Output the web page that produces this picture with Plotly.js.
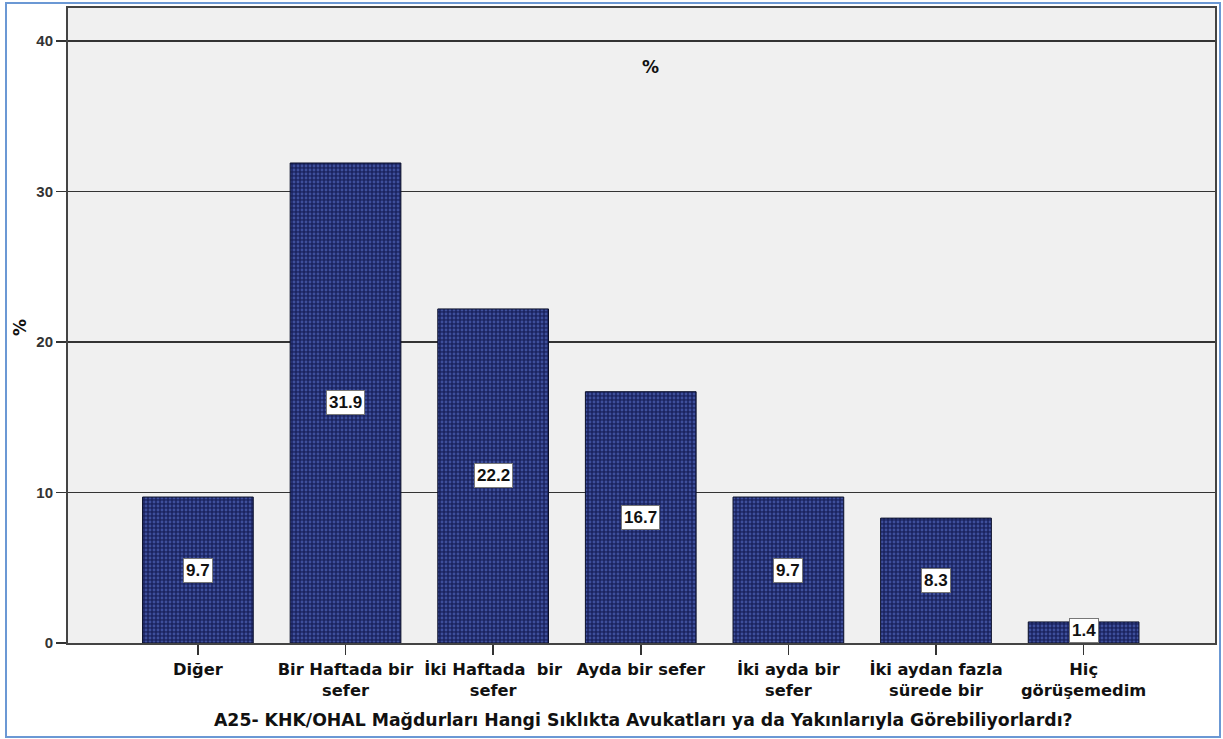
<!DOCTYPE html>
<html><head><meta charset="utf-8">
<script src="https://cdn.plot.ly/plotly-3.0.1.min.js"></script>
<style>html,body{margin:0;padding:0;background:#fff}#c{width:1223px;height:739px}</style>
</head><body><div id="c"></div>
<script>
const categories = ["Diğer","Bir Haftada bir<br>sefer","İki Haftada  bir<br>sefer","Ayda bir sefer","İki ayda bir<br>sefer","İki aydan fazla<br>sürede bir","Hiç<br>görüşemedim"];
const values = [9.7, 31.9, 22.2, 16.7, 9.7, 8.3, 1.4];
const valueLabels = ["9.7","31.9","22.2","16.7","9.7","8.3","1.4"];
const yTicks = [0,10,20,30,40];
const chartTitle = "%";
const yTitle = "%";
const xTitle = "A25- KHK/OHAL Mağdurları Hangi Sıklıkta Avukatları ya da Yakınlarıyla Görebiliyorlardı?";

const FL = "Liberation Sans, Arial, sans-serif";
const FD = "DejaVu Sans, sans-serif";
const trace = {
  type:'bar', x: categories, y: values, width: 0.75,
  marker:{color:'#1b2460', line:{color:'#0a0f2a', width:1},
    pattern:{shape:'.', fgcolor:'#3e4f9c', bgcolor:'#1b2460', size:4, solidity:0.4}},
  hoverinfo:'skip'
};
const annotations = categories.map((c,i)=>({
  x:c, y: values[i] < 3 ? values[i]*0.6 : values[i]/2, xref:'x', yref:'y', text: valueLabels[i], showarrow:false,
  font:{family:FL, size:17, color:'#111', weight:'bold'}, bgcolor:'#ffffff', bordercolor:'#777', borderwidth:1, borderpad:2
}));
annotations.push({xref:'paper', yref:'paper', x:(651-68)/1147, y:(643-67)/635, yanchor:'middle', text:chartTitle, showarrow:false,
  font:{family:FD,size:17,color:'#111',weight:'bold'}});
annotations.push({xref:'paper', yref:'paper', x:(643-68)/1147, y:(643-720)/635, yanchor:'middle', text:xTitle, showarrow:false,
  font:{family:FD,size:17.3,color:'#111',weight:'bold'}});
annotations.push({xref:'paper', yref:'paper', x:(20-68)/1147, y:(643-328)/635, xanchor:'center', yanchor:'middle', textangle:-90, text:yTitle, showarrow:false,
  font:{family:FD,size:17,color:'#111',weight:'bold'}});
const layout = {
  width:1223, height:739,
  margin:{l:68, r:8, t:8, b:96},
  paper_bgcolor:'#ffffff', plot_bgcolor:'#f0f0f0',
  showlegend:false,
  xaxis:{type:'category', range:[-0.88, 6.89], showgrid:false, ticks:'outside', ticklen:10, tickcolor:'#333', tickwidth:1.5,
    tickfont:{family:FD, size:16.3, color:'#111', weight:'bold'}, showline:true, mirror:true, linecolor:'#444', linewidth:2},
  yaxis:{range:[0, 42.2], tickvals:yTicks, ticks:'outside', ticklen:10, tickcolor:'#333', tickwidth:1.5,
    tickfont:{family:FL, size:15, color:'#333', weight:'bold'}, showgrid:true, gridcolor:'#333', gridwidth:1.6, zeroline:false,
    showline:true, mirror:true, linecolor:'#444', linewidth:2},
  annotations: annotations,
  shapes:[{type:'rect', xref:'paper', yref:'paper', layer:'above',
    x0:(6-68)/1147, x1:(1220-68)/1147, y0:(643-737)/635, y1:(643-3)/635, line:{color:'#6b98d4', width:2}}]
};
Plotly.newPlot('c',[trace],layout,{displayModeBar:false, staticPlot:true});
</script></body></html>
